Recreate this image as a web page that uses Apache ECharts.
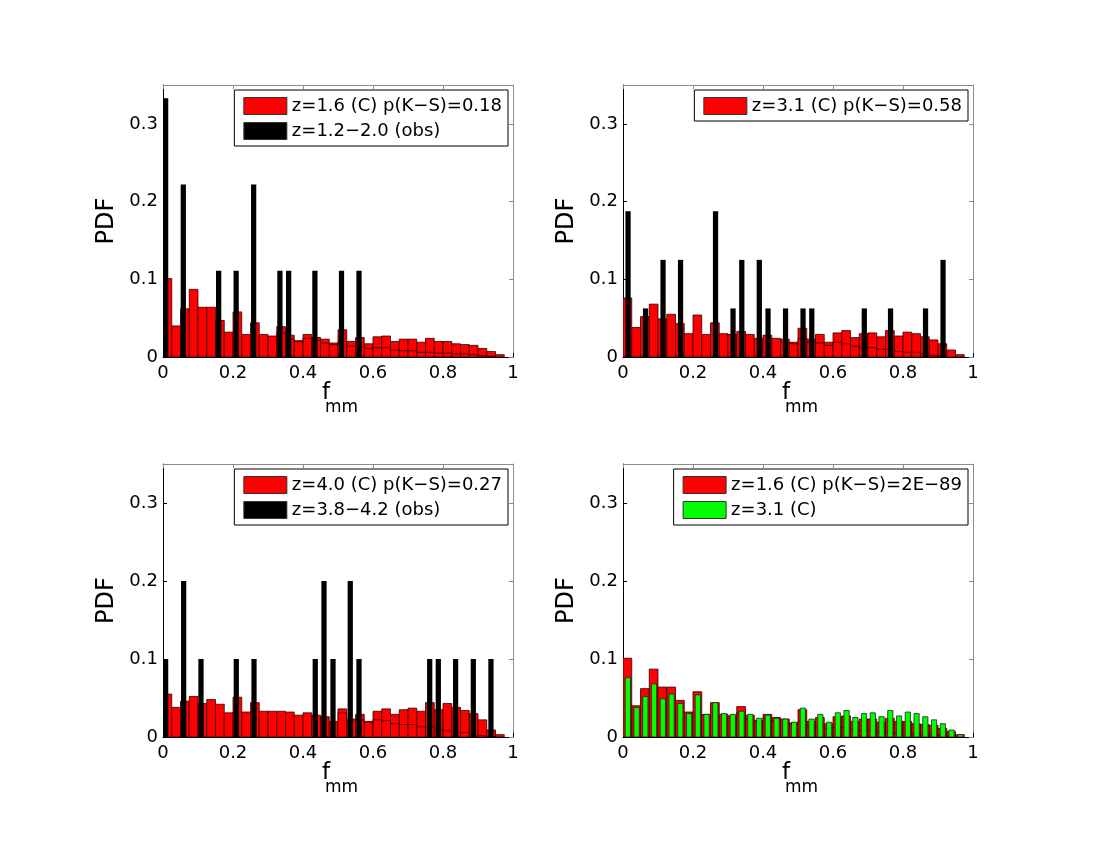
<!DOCTYPE html>
<html lang="en">
<head>
<meta charset="UTF-8">
<script src="https://cdn.jsdelivr.net/npm/echarts@6/dist/echarts.min.js"></script>
<title>f_mm PDF</title>
<style>
  html, body { margin: 0; padding: 0; background: #fff; }
  #main { width: 1100px; height: 850px; }
</style>
</head>
<body>
<div id="main"></div>
<script type="text/javascript">
// bins of width 0.025 from 0 to 1
var BIN = 0.025;
var xTicks = [0, 0.2, 0.4, 0.6, 0.8, 1];
var yTicks = [0, 0.1, 0.2, 0.3];

// z=1.6 model histogram (top left, bottom right red)
var z16Model = [0.101, 0.040, 0.062, 0.087, 0.064, 0.064, 0.047, 0.032, 0.058, 0.029,
                0.044, 0.029, 0.027, 0.039, 0.028, 0.021, 0.029, 0.025, 0.023, 0.018,
                0.035, 0.020, 0.025, 0.017, 0.026, 0.027, 0.020, 0.023, 0.023, 0.019,
                0.024, 0.020, 0.020, 0.017, 0.016, 0.015, 0.011, 0.007, 0.003, 0];
var z16Inner = [null, null, null, null, null, null, null, null, null, null,
                null, null, null, 0.031, 0.023, 0.020, 0.024, 0.021, 0.018, 0.016,
                0.020, 0.014, 0.013, 0.011, 0.012, 0.012, 0.009, 0.008, 0.008, 0.006,
                0.006, 0.005, 0.005, 0.004, 0.004, 0.003, 0.002, 0.001, null, null];
var z12ObsX = [0.0075, 0.058, 0.159, 0.209, 0.259, 0.334, 0.359, 0.434, 0.510, 0.560];
var z12ObsY = [0.333, 0.222, 0.111, 0.111, 0.222, 0.111, 0.111, 0.111, 0.111, 0.111];

// z=3.1 model histogram (top right red, bottom right green)
var z31Model = [0.076, 0.038, 0.052, 0.068, 0.049, 0.055, 0.043, 0.030, 0.054, 0.029,
                0.044, 0.030, 0.029, 0.033, 0.029, 0.024, 0.028, 0.024, 0.023, 0.019,
                0.037, 0.023, 0.029, 0.019, 0.031, 0.034, 0.025, 0.030, 0.031, 0.026,
                0.034, 0.027, 0.032, 0.030, 0.026, 0.022, 0.017, 0.009, 0.003, 0];
var z31Inner = [null, null, null, null, null, null, null, null, null, null,
                null, null, null, null, null, null, null, null, 0.019, 0.017,
                0.024, 0.019, 0.018, 0.015, 0.019, 0.017, 0.014, 0.012, 0.012, 0.010,
                0.010, 0.007, 0.006, 0.006, 0.004, 0.002, 0.0013, null, null, null];
var z31ObsX = [0.0144, 0.0644, 0.1144, 0.1644, 0.2644, 0.3144, 0.3394, 0.3894,
               0.4144, 0.4644, 0.5144, 0.5394, 0.6894, 0.7644, 0.8644, 0.9144];
var z31ObsY = [0.1875, 0.0625, 0.125, 0.125, 0.1875, 0.0625, 0.125, 0.125,
               0.0625, 0.0625, 0.0625, 0.0625, 0.0625, 0.0625, 0.0625, 0.125];

// z=4.0 model histogram (bottom left)
var z40Model = [0.055, 0.038, 0.046, 0.052, 0.043, 0.048, 0.042, 0.031, 0.051, 0.032,
                0.044, 0.033, 0.033, 0.033, 0.032, 0.028, 0.031, 0.028, 0.026, 0.020,
                0.036, 0.023, 0.029, 0.020, 0.033, 0.036, 0.029, 0.035, 0.037, 0.033,
                0.044, 0.035, 0.043, 0.038, 0.034, 0.030, 0.022, 0.009, 0.003, 0];
var z40Inner = [null, null, null, null, null, null, null, null, null, null,
                null, null, null, null, null, null, null, null, null, null,
                0.031, 0.020, 0.022, 0.019, 0.022, 0.021, 0.017, 0.016, 0.016, 0.013,
                0.013, 0.009, 0.008, 0.006, 0.0056, 0.0026, 0.0017, 0.0005, null, null];
var z38ObsX = [0.0075, 0.059, 0.1085, 0.2094, 0.26, 0.435, 0.46, 0.4857, 0.535, 0.56,
               0.762, 0.7866, 0.836, 0.8866, 0.937];
var z38ObsY = [0.1, 0.2, 0.1, 0.1, 0.1, 0.1, 0.2, 0.1, 0.2, 0.1, 0.1, 0.1, 0.1, 0.1, 0.1];

var legendNames = [
    ['z=1.6 (C) p(K\u2212S)=0.18', 'z=1.2\u22122.0 (obs)'],
    ['z=3.1 (C) p(K\u2212S)=0.58'],
    ['z=4.0 (C) p(K\u2212S)=0.27', 'z=3.8\u22124.2 (obs)'],
    ['z=1.6 (C) p(K\u2212S)=2E\u221289', 'z=3.1 (C)']
];

var FONT = 'DejaVu Sans';
var RED = '#ff0000', GREEN = '#00ff00', BLACK = '#000000';
var OBS_W = 0.015, GREEN_W = 0.015;

var grids = [
    {left: 163, top: 85, width: 350, height: 272},
    {left: 623, top: 85, width: 350, height: 272},
    {left: 163, top: 464, width: 350, height: 273},
    {left: 623, top: 464, width: 350, height: 273}
];

function histData(vals) {
    var out = [];
    vals.forEach(function (v, k) {
        if (v) out.push([k * BIN, (k + 1) * BIN, v]);
    });
    return out;
}
function narrowData(vals, w) {
    var out = [];
    vals.forEach(function (v, k) {
        var c = (k + 0.55) * BIN;
        if (v) out.push([c - w / 2, c + w / 2, v]);
    });
    return out;
}
function obsData(xs, ys, w) {
    return xs.map(function (x, i) { return [x - w / 2, x + w / 2, ys[i]]; });
}

function rectItem(params, api) {
    var a = api.coord([api.value(0), api.value(2)]);
    var b = api.coord([api.value(1), 0]);
    return {
        type: 'rect',
        shape: {x: a[0], y: a[1], width: b[0] - a[0], height: b[1] - a[1]},
        style: api.style()
    };
}

function barSeries(name, g, data, color, border, bw) {
    return {
        type: 'custom',
        name: name,
        xAxisIndex: 2 * g,
        yAxisIndex: 2 * g,
        renderItem: rectItem,
        encode: {x: [0, 1], y: 2},
        clip: true,
        silent: true,
        itemStyle: {color: color, borderColor: border, borderWidth: bw},
        data: data
    };
}

var xAxes = [], yAxes = [], legends = [], graphics = [];
grids.forEach(function (gr, g) {
    xAxes.push({
        gridIndex: g, type: 'value', position: 'bottom', min: 0, max: 1, interval: 0.2,
        axisLine: {show: true, onZero: false, lineStyle: {color: '#000', width: 1}},
        axisTick: {show: true, inside: true, length: 4, lineStyle: {color: '#000'}},
        axisLabel: {margin: 7, color: '#000', fontFamily: FONT, fontSize: 18,
                    formatter: function (v) { return xTicks.indexOf(v) >= 0 ? String(v) : ''; }},
        splitLine: {show: false}
    });
    xAxes.push({
        gridIndex: g, type: 'value', position: 'top', min: 0, max: 1, interval: 0.2,
        axisLine: {show: true, onZero: false, lineStyle: {color: '#8c8c8c', width: 1}},
        axisTick: {show: true, inside: true, length: 4, lineStyle: {color: '#8c8c8c'}},
        axisLabel: {show: false}, splitLine: {show: false}
    });
    yAxes.push({
        gridIndex: g, type: 'value', position: 'left', min: 0, max: 0.35, interval: 0.1,
        axisLine: {show: true, onZero: false, lineStyle: {color: '#000', width: 1}},
        axisTick: {show: true, inside: true, length: 4, lineStyle: {color: '#000'}},
        axisLabel: {margin: 5, color: '#000', fontFamily: FONT, fontSize: 18, showMaxLabel: false,
                    formatter: function (v) { return yTicks.indexOf(Math.round(v * 100) / 100) >= 0 ? String(Math.round(v * 100) / 100) : ''; }},
        splitLine: {show: false}
    });
    yAxes.push({
        gridIndex: g, type: 'value', position: 'right', min: 0, max: 0.35, interval: 0.1,
        axisLine: {show: true, onZero: false, lineStyle: {color: '#8c8c8c', width: 1}},
        axisTick: {show: true, inside: true, length: 4, lineStyle: {color: '#8c8c8c'}},
        axisLabel: {show: false}, splitLine: {show: false}
    });

    var cx = gr.left + gr.width / 2;
    var bottom = gr.top + gr.height;
    var cy = gr.top + gr.height / 2;
    graphics.push({type: 'text', x: gr.left - 56, y: cy, rotation: Math.PI / 2,
        style: {text: 'PDF', fill: '#000', font: '24px "' + FONT + '"', textAlign: 'center', textVerticalAlign: 'middle'}});
    graphics.push({type: 'text', x: cx - 12, y: bottom + 36,
        style: {text: 'f', fill: '#000', font: '23px "' + FONT + '"', textAlign: 'center', textVerticalAlign: 'middle'}});
    graphics.push({type: 'text', x: cx - 13, y: bottom + 51,
        style: {text: 'mm', fill: '#000', font: '17px "' + FONT + '"', textAlign: 'left', textVerticalAlign: 'middle'}});

    var colors = g === 3 ? [RED, GREEN] : [RED, BLACK];
    legends.push({
        orient: 'vertical',
        right: 1100 - (gr.left + gr.width) + 5,
        top: gr.top + 5,
        itemWidth: 43, itemHeight: 17, itemGap: 7,
        padding: [7, 6, 6, 9],
        borderColor: '#000', borderWidth: 1, backgroundColor: '#fff',
        icon: 'rect', selectedMode: false,
        textStyle: {color: '#000', fontFamily: FONT, fontSize: 18, lineHeight: 17},
        data: legendNames[g].map(function (n, i) {
            return {name: n, itemStyle: {color: colors[i], borderColor: '#333', borderWidth: 1}};
        })
    });
});

var series = [
    // top left
    barSeries(legendNames[0][0], 0, histData(z16Model), RED, '#300', 0.8),
    barSeries('inner0', 0, histData(z16Inner), RED, '#300', 0.8),
    barSeries(legendNames[0][1], 0, obsData(z12ObsX, z12ObsY, OBS_W), BLACK, BLACK, 0),
    // top right
    barSeries(legendNames[1][0], 1, histData(z31Model), RED, '#300', 0.8),
    barSeries('inner1', 1, histData(z31Inner), RED, '#300', 0.8),
    barSeries('obs1', 1, obsData(z31ObsX, z31ObsY, OBS_W), BLACK, BLACK, 0),
    // bottom left
    barSeries(legendNames[2][0], 2, histData(z40Model), RED, '#300', 0.8),
    barSeries('inner2', 2, histData(z40Inner), RED, '#300', 0.8),
    barSeries(legendNames[2][1], 2, obsData(z38ObsX, z38ObsY, OBS_W), BLACK, BLACK, 0),
    // bottom right
    barSeries(legendNames[3][0], 3, histData(z16Model), RED, '#300', 0.8),
    barSeries('inner3', 3, histData(z16Inner), RED, '#300', 0.8),
    barSeries(legendNames[3][1], 3, narrowData(z31Model, GREEN_W), GREEN, '#222', 0.8)
];

var myChart = echarts.init(document.getElementById('main'));
myChart.setOption({
    animation: false,
    backgroundColor: '#fff',
    grid: grids,
    xAxis: xAxes,
    yAxis: yAxes,
    legend: legends,
    graphic: graphics,
    series: series
});
</script>
</body>
</html>
